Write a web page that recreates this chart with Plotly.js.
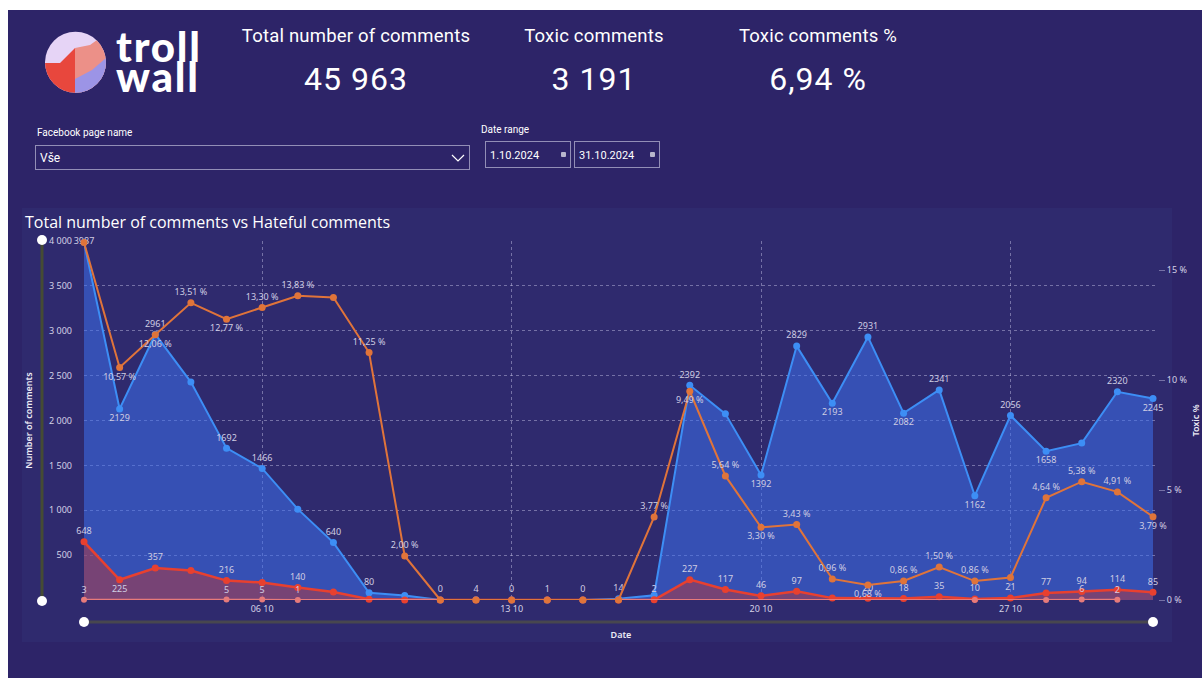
<!DOCTYPE html>
<html>
<head>
<meta charset="utf-8">
<script src="https://cdn.plot.ly/plotly-3.0.1.min.js"></script>
<style>
  html, body { margin:0; padding:0; width:1202px; height:678px; overflow:hidden; background:#ffffff; }
  #page { position:absolute; left:8px; top:10px; width:1194px; height:668px; background:#2d2468; }
  #panel { position:absolute; left:22px; top:208px; width:1150px; height:434px; background:#2f2a6e; }
  #chart { position:absolute; left:0; top:0; width:1202px; height:678px; }
  .hd { position:absolute; color:#ffffff; font-family:Roboto, "Noto Sans", sans-serif; text-align:center; white-space:nowrap; }
  .kpiT { font-size:18.5px; line-height:22px; letter-spacing:0.2px; }
  .kpiV { font-size:32px; line-height:36px; letter-spacing:1px; }
  .lbl { position:absolute; color:#ffffff; font-family:Roboto, "Noto Sans", sans-serif; font-size:10px; white-space:nowrap; }
  .box { position:absolute; border:1px solid rgba(230,230,245,0.55); box-sizing:border-box; color:#ffffff;
         font-family:Roboto, "Noto Sans", sans-serif; }
  .logoTxt { position:absolute; color:#ffffff; font-family:Lato, "Noto Sans", sans-serif; font-weight:900;
             font-size:42px; line-height:30px; letter-spacing:1.8px; }
</style>
</head>
<body>
<div id="page"></div>
<div id="panel"></div>
<div id="chart"></div>

<!-- logo -->
<svg style="position:absolute;left:40px;top:27px" width="72" height="72" viewBox="40 27 72 72">
  <defs><clipPath id="cc"><circle cx="75.5" cy="62.3" r="30.5"/></clipPath></defs>
  <g clip-path="url(#cc)">
    <rect x="40" y="27" width="72" height="72" fill="#e6d4f6"/>
    <polygon points="40,63 60,63 75,48 75,99 40,99" fill="#e8473d"/>
    <polygon points="75,48 90,45 97,40 112,35 112,99 75,99" fill="#ec9088"/>
    <polygon points="75,79 92,70 106,58 112,55 112,99 75,99" fill="#9c94e6"/>
  </g>
</svg>
<div class="logoTxt" style="left:116px;top:31px">troll<br>wall</div>

<!-- KPI cards -->
<div class="hd kpiT" style="left:206px;width:300px;top:25px">Total number of comments</div>
<div class="hd kpiV" style="left:206px;width:300px;top:61px">45 963</div>
<div class="hd kpiT" style="left:444px;width:300px;top:25px">Toxic comments</div>
<div class="hd kpiV" style="left:444px;width:300px;top:61px">3 191</div>
<div class="hd kpiT" style="left:668px;width:300px;top:25px">Toxic comments %</div>
<div class="hd kpiV" style="left:668px;width:300px;top:61px">6,94 %</div>

<!-- slicers -->
<div class="lbl" style="left:37px;top:127px">Facebook page name</div>
<div class="box" style="left:35px;top:145px;width:435px;height:25px;">
  <span style="position:absolute;left:4px;top:5px;font-size:12px;">Vše</span>
  <svg style="position:absolute;right:3px;top:6px" width="16" height="12" viewBox="0 0 16 12">
    <polyline points="2,3 8,9 14,3" fill="none" stroke="#ffffff" stroke-width="1.2"/>
  </svg>
</div>
<div class="lbl" style="left:481px;top:124px">Date range</div>
<div class="box" style="left:485px;top:141px;width:86px;height:27px;">
  <span style="position:absolute;left:4px;top:7px;font-size:11px;">1.10.2024</span>
  <span style="position:absolute;right:4px;top:10px;width:5px;height:5px;background:#b8b6cc;border-radius:1px;"></span>
</div>
<div class="box" style="left:574px;top:141px;width:86px;height:27px;">
  <span style="position:absolute;left:4px;top:7px;font-size:11px;">31.10.2024</span>
  <span style="position:absolute;right:4px;top:10px;width:5px;height:5px;background:#b8b6cc;border-radius:1px;"></span>
</div>

<script>
// ---------- data ----------
const dates = ['2024-10-01','2024-10-02','2024-10-03','2024-10-04','2024-10-05','2024-10-06','2024-10-07',
               '2024-10-08','2024-10-09','2024-10-10','2024-10-11','2024-10-12','2024-10-13','2024-10-14',
               '2024-10-15','2024-10-16','2024-10-17','2024-10-18','2024-10-19','2024-10-20','2024-10-21',
               '2024-10-22','2024-10-23','2024-10-24','2024-10-25','2024-10-26','2024-10-27','2024-10-28',
               '2024-10-29','2024-10-30','2024-10-31'];
const totalComments = [3987,2129,2961,2428,1692,1466,1012,640,80,50,0,4,0,1,0,14,53,2392,2074,1392,
                       2829,2193,2931,2082,2341,1162,2056,1658,1748,2320,2245];
const toxicComments = [648,225,357,328,216,195,140,88,9,1,0,0,0,0,0,0,2,227,117,46,
                       97,21,20,18,35,10,21,77,94,114,85];
const hatefulComments = [3,null,null,null,5,5,1,null,null,null,null,null,null,null,null,null,null,null,null,null,
                         null,null,null,null,null,1,null,1,6,2,null];
const toxicPct = totalComments.map((t,i) => t > 0 ? toxicComments[i] / t * 100 : 0);

// which data labels are visible (day numbers), and which sit below their point
const blueLabelDays  = [1,2,3,5,6,8,9,11,12,13,14,15,16,18,20,21,22,23,24,25,26,27,28,30,31];
const blueBelowDays  = [2,20,22,24,26,28,31];
const redLabelDays   = [1,2,3,5,7,17,18,19,20,21,23,24,25,26,27,28,29,30,31];
const redBelowDays   = [2];
const pctLabelDays   = [2,3,4,5,6,7,9,10,17,18,19,20,21,22,23,24,25,26,28,29,30,31];
const pctBelowDays   = [2,3,5,18,20,23,31];
const hateLabelDays  = [1,5,6,7,29,30];

const yTicks  = [500,1000,1500,2000,2500,3000,3500,4000];
const y2Ticks = [0,5,10,15];
const y2TickText = ['0 %','5 %','10 %','15 %'];

// ---------- helpers ----------
const lblText = (vals, days, fmt) => vals.map((v,i) => (days.includes(i+1) && v !== null) ? fmt(v) : '');
const lblPos  = (n, below, special) => Array.from({length:n}, (_,i) =>
  special && special[i+1] ? special[i+1] : (below.includes(i+1) ? 'bottom center' : 'top center'));
const fmtInt = v => String(v);
const fmtPct = v => v.toFixed(2).replace('.', ',') + ' %';

const labelFont = {family:'"Noto Sans", "Open Sans", sans-serif', size:9, color:'#cfcde3'};

// plot geometry (pixels)
const W = 1202, H = 678, L = 84, R = 1158, T = 241, B = 600;
const pw = R - L, ph = B - T;
const px = x => (x - L) / pw;
const py = y => (B - y) / ph;

const traces = [
  {
    x: dates, y: totalComments, type:'scatter', mode:'lines+markers+text', name:'Total comments',
    line:{color:'#3d8ef5', width:2}, marker:{color:'#3d8ef5', size:7},
    fill:'tozeroy', fillcolor:'rgba(60,112,238,0.55)',
    text: lblText(totalComments, blueLabelDays, fmtInt),
    textposition: lblPos(31, blueBelowDays, {1:'middle center'}),
    textfont: labelFont, cliponaxis:false, hoverinfo:'x+y'
  },
  {
    x: dates, y: toxicComments, type:'scatter', mode:'lines+markers+text', name:'Toxic comments',
    line:{color:'#e8402f', width:2.5}, marker:{color:'#e8402f', size:7},
    fill:'tozeroy', fillcolor:'rgba(200,50,40,0.45)',
    text: lblText(toxicComments, redLabelDays, fmtInt),
    textposition: lblPos(31, redBelowDays),
    textfont: labelFont, cliponaxis:false, hoverinfo:'x+y'
  },
  {
    x: dates, y: hatefulComments, type:'scatter', mode:'lines+markers+text', name:'Hateful comments',
    connectgaps:true,
    line:{color:'#e77b7b', width:2}, marker:{color:'#e77b7b', size:6},
    text: lblText(hatefulComments, hateLabelDays, fmtInt),
    textposition:'top center',
    textfont: labelFont, cliponaxis:false, hoverinfo:'x+y'
  },
  {
    x: dates, y: toxicPct, yaxis:'y2', type:'scatter', mode:'lines+markers+text', name:'Toxic %',
    line:{color:'#e0743a', width:2}, marker:{color:'#e0743a', size:7},
    text: lblText(toxicPct, pctLabelDays, fmtPct),
    textposition: lblPos(31, pctBelowDays),
    textfont: labelFont, cliponaxis:false, hoverinfo:'x+y'
  }
];

const sliderV = '#454b34', sliderH = '#48474f';
const shapes = [
  {type:'line', xref:'paper', yref:'paper', x0:px(42), x1:px(42), y0:py(240), y1:py(601),
   line:{color:sliderV, width:3}},
  {type:'circle', xref:'paper', yref:'paper', xsizemode:'pixel', ysizemode:'pixel',
   xanchor:px(42), yanchor:py(240), x0:-5, x1:5, y0:-5, y1:5, fillcolor:'#ffffff', line:{color:'#ffffff', width:0}},
  {type:'circle', xref:'paper', yref:'paper', xsizemode:'pixel', ysizemode:'pixel',
   xanchor:px(42), yanchor:py(601), x0:-5, x1:5, y0:-5, y1:5, fillcolor:'#ffffff', line:{color:'#ffffff', width:0}},
  {type:'line', xref:'paper', yref:'paper', x0:px(84), x1:px(1153), y0:py(622), y1:py(622),
   line:{color:sliderH, width:3}},
  {type:'circle', xref:'paper', yref:'paper', xsizemode:'pixel', ysizemode:'pixel',
   xanchor:px(84), yanchor:py(622), x0:-5, x1:5, y0:-5, y1:5, fillcolor:'#ffffff', line:{color:'#ffffff', width:0}},
  {type:'circle', xref:'paper', yref:'paper', xsizemode:'pixel', ysizemode:'pixel',
   xanchor:px(1153), yanchor:py(622), x0:-5, x1:5, y0:-5, y1:5, fillcolor:'#ffffff', line:{color:'#ffffff', width:0}}
];

const tickFont = {family:'"Noto Sans", "Open Sans", sans-serif', size:9, color:'#d4d2e6'};
const titleFont = {family:'"Noto Sans", "Open Sans", sans-serif', size:9, color:'#ecebf5', weight:600};

const layout = {
  width: W, height: H,
  margin: {l:L, r:W-R, t:T, b:H-B, pad:0},
  paper_bgcolor:'rgba(0,0,0,0)', plot_bgcolor:'rgba(0,0,0,0)',
  separators: ', ',
  showlegend:false,
  title: {text:'Total number of comments vs Hateful comments', xref:'container', yref:'container',
          x:25/W, xanchor:'left', y:1-222/H, yanchor:'middle',
          font:{family:'"Open Sans", "Noto Sans", sans-serif', size:16, color:'#ffffff'}},
  xaxis: {
    type:'date', range:['2024-10-01 00:00', '2024-10-31 03:22'],
    tick0:'2024-10-06', dtick:7*86400000, tickformat:'%d %m',
    showgrid:true, gridcolor:'rgba(205,200,235,0.45)', griddash:'dot', gridwidth:1,
    zeroline:false, showline:false, ticks:'', tickfont:tickFont, ticklabelstandoff:2,
    title:{text:'Date', font:titleFont, standoff:17}
  },
  yaxis: {
    range:[0,4000], tickvals:yTicks, tickformat:',d',
    showgrid:true, gridcolor:'rgba(205,200,235,0.45)', griddash:'dot', gridwidth:1,
    zeroline:false, showline:false, ticks:'', ticklabelstandoff:11, tickfont:tickFont,
    title:{text:'Number of comments', font:titleFont, standoff:14}
  },
  yaxis2: {
    overlaying:'y', side:'right', range:[0,16.32], tickvals:y2Ticks, ticktext:y2TickText,
    showgrid:false, zeroline:false, showline:false,
    ticks:'outside', ticklen:6, tickcolor:'rgba(205,200,235,0.45)', tickfont:tickFont,
    title:{text:'Toxic %', font:titleFont, standoff:6}
  },
  shapes: shapes
};

Plotly.newPlot('chart', traces, layout, {displayModeBar:false, staticPlot:true});
</script>
</body>
</html>
